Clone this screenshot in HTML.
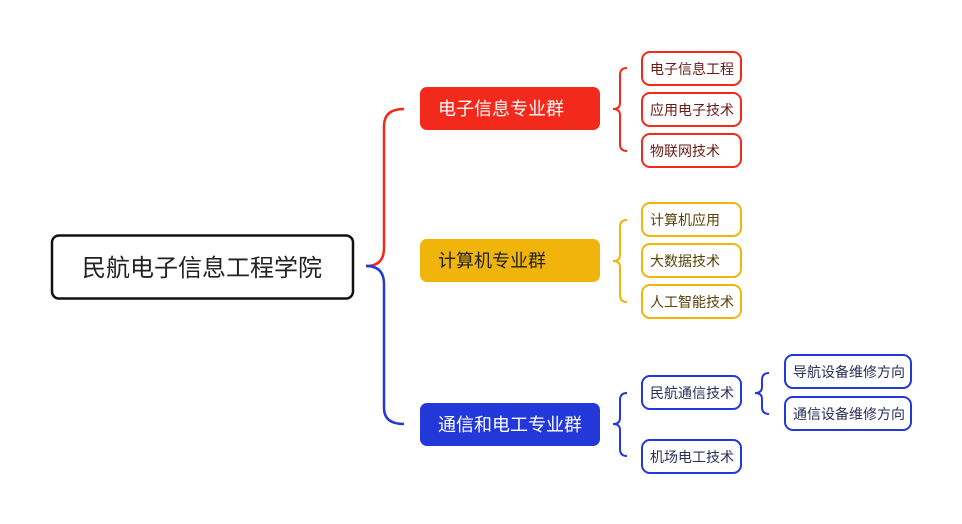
<!DOCTYPE html>
<html><head><meta charset="utf-8"><style>
html,body{margin:0;padding:0;background:#fff;}
svg{display:block;}
text{font-family:"Liberation Sans","Noto Sans CJK SC",sans-serif;}
</style></head><body>
<svg width="962" height="524" viewBox="0 0 962 524" xmlns="http://www.w3.org/2000/svg">
<rect width="962" height="524" fill="#fff"/>
<rect x="52" y="235.5" width="301" height="63" rx="7" fill="#fff" stroke="#111" stroke-width="2.5"/>
<text x="202" y="276" font-size="24" text-anchor="middle" fill="#222">民航电子信息工程学院</text>
<path d="M366 266 Q384 266 384 248 L384 126 Q384 109 404 109" fill="none" stroke="#f2291b" stroke-width="2.5"/>
<path d="M366 266 Q384 266 384 284 L384 408 Q384 424 404 424" fill="none" stroke="#2238d8" stroke-width="2.5"/>
<rect x="420" y="87" width="180" height="43" rx="7" fill="#f2291b"/>
<text x="438" y="115" font-size="18" fill="#fff">电子信息专业群</text>
<rect x="420" y="239" width="180" height="43" rx="7" fill="#f0b40a"/>
<text x="438" y="267" font-size="18" fill="#222">计算机专业群</text>
<rect x="420" y="403" width="180" height="43" rx="7" fill="#2238d8"/>
<text x="438" y="431" font-size="18" fill="#fff">通信和电工专业群</text>
<g fill="none" stroke-width="2">
<path d="M627 68 Q620 68 620 75 L620 103 Q620 109 613 109 Q620 109 620 115 L620 144 Q620 151 627 151" stroke="#f2291b"/>
<path d="M627 220 Q620 220 620 227 L620 255 Q620 261 613 261 Q620 261 620 267 L620 295 Q620 302 627 302" stroke="#f0b40a"/>
<path d="M627 393 Q620 393 620 400 L620 418 Q620 424 613 424 Q620 424 620 430 L620 449 Q620 456 627 456" stroke="#2238d8"/>
<path d="M769 373 Q762 373 762 380 L762 387 Q762 393 755 393 Q762 393 762 399 L762 407 Q762 414 769 414" stroke="#2238d8"/>
</g>
<g stroke-width="2" fill="#fff">
<rect x="642" y="52" width="99" height="33" rx="8" stroke="#f2291b"/>
<rect x="642" y="93" width="99" height="33" rx="8" stroke="#f2291b"/>
<rect x="642" y="134" width="99" height="33" rx="8" stroke="#f2291b"/>
<rect x="642" y="203" width="99" height="33" rx="8" stroke="#f0b40a"/>
<rect x="642" y="244" width="99" height="33" rx="8" stroke="#f0b40a"/>
<rect x="642" y="285" width="99" height="33" rx="8" stroke="#f0b40a"/>
<rect x="642" y="376" width="99" height="33" rx="8" stroke="#2238d8"/>
<rect x="642" y="440" width="99" height="33" rx="8" stroke="#2238d8"/>
<rect x="785" y="355" width="126" height="33" rx="8" stroke="#2238d8"/>
<rect x="785" y="397" width="126" height="33" rx="8" stroke="#2238d8"/>
</g>
<g font-size="14">
<text x="650" y="74" fill="#6b1a14">电子信息工程</text>
<text x="650" y="115" fill="#6b1a14">应用电子技术</text>
<text x="650" y="156" fill="#6b1a14">物联网技术</text>
<text x="650" y="225" fill="#5a4208">计算机应用</text>
<text x="650" y="266" fill="#5a4208">大数据技术</text>
<text x="650" y="307" fill="#5a4208">人工智能技术</text>
<text x="650" y="398" fill="#2a2f5a">民航通信技术</text>
<text x="650" y="462" fill="#2a2f5a">机场电工技术</text>
<text x="793" y="377" fill="#2a2f5a">导航设备维修方向</text>
<text x="793" y="419" fill="#2a2f5a">通信设备维修方向</text>
</g>
</svg>
</body></html>
